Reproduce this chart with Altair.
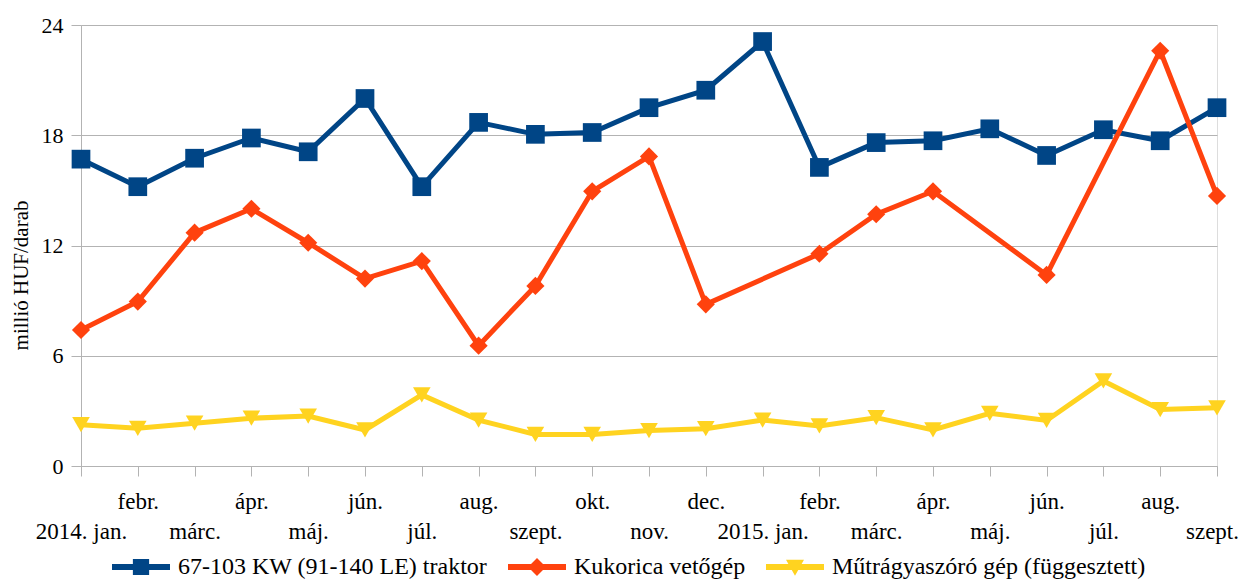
import json
import altair as alt
import pandas as pd

months = ["2014. jan.", "febr.", "márc.", "ápr.", "máj.", "jún.", "júl.", "aug.", "szept.",
          "okt.", "nov.", "dec.", "2015. jan.", "febr.", "márc.", "ápr.", "máj.", "jún.",
          "júl.", "aug.", "szept."]
series_names = ["67-103 KW (91-140 LE) traktor", "Kukorica vetőgép",
                "Műtrágyaszóró gép (függesztett)"]
traktor = [16.7, 15.2, 16.75, 17.85, 17.1, 20.0, 15.2, 18.7, 18.05, 18.15, 19.5, 20.45,
           23.1, 16.25, 17.6, 17.7, 18.35, 16.9, 18.3, 17.7, 19.5]
vetogep = [7.4, 8.95, 12.7, 14.0, 12.15, 10.2, 11.15, 6.55, 9.8, 14.95, 16.85, 8.8,
           None, 11.55, 13.7, 14.95, None, 10.4, None, 22.6, 14.7]
mutragya = [2.25, 2.05, 2.33, 2.6, 2.72, 1.96, 3.87, 2.5, 1.72, 1.72, 1.93, 2.03,
            2.5, 2.18, 2.63, 1.96, 2.87, 2.48, 4.63, 3.07, 3.17]
y_ticks = [0, 6, 12, 18, 24]
colors = ["#004586", "#ff420e", "#ffd320"]
shapes = ["square", "diamond", "triangle-down"]
sizes = [350, 330, 310]
legend_paths = [
    "M-1,-0.1H1V0.1H-1Z M-0.28,-0.28H0.28V0.28H-0.28Z",
    "M-1,-0.1H1V0.1H-1Z M0,-0.31L0.31,0L0,0.31L-0.31,0Z",
    "M-1,-0.1H1V0.1H-1Z M-0.31,-0.25L0.31,-0.25L0,0.3Z",
]

rows = []
for s, vals in zip(series_names, [traktor, vetogep, mutragya]):
    for i, v in enumerate(vals):
        if v is not None:
            rows.append({"idx": i, "month": months[i], "series": s, "value": v})
df = pd.DataFrame(rows)

FONT = "Liberation Serif"
GRID = "#b3b3b3"
last = len(months) - 1

L = json.dumps(months, ensure_ascii=False)
label_expr = f"datum.value % 2 == 0 ? ['', {L}[datum.value]] : [{L}[datum.value]]"

x_enc = alt.X(
    "idx:Q",
    scale=alt.Scale(domain=[0, last], nice=False, zero=False),
    axis=alt.Axis(values=list(range(len(months))), labelExpr=label_expr, grid=False,
                  domainColor=GRID, tickColor=GRID, tickSize=10, labelPadding=14,
                  labelFont=FONT, labelFontSize=23, labelColor="black",
                  labelLineHeight=30, labelOverlap=False, labelFlush=False,
                  labelOffset={"condition": {"test": f"datum.value == {last}", "value": -5},
                               "value": 0}),
    title=None,
)
y_enc = alt.Y(
    "value:Q",
    scale=alt.Scale(domain=[0, 24], nice=False),
    axis=alt.Axis(values=y_ticks, grid=True, gridColor=GRID, domainColor=GRID,
                  tickColor=GRID, tickSize=10, labelPadding=8, labelFont=FONT,
                  labelFontSize=22, labelColor="black", titleFont=FONT,
                  titleFontSize=21, titleFontWeight="normal", titleColor="black",
                  titleX=-50, titleY=250, titleAlign="center", titleBaseline="bottom"),
    title="millió HUF/darab",
)

layers = []
for s, c, sh, sz in zip(series_names, colors, shapes, sizes):
    base = alt.Chart(df).transform_filter(alt.datum.series == s)
    layers.append(base.mark_line(color=c, strokeWidth=5).encode(x=x_enc, y=y_enc))
    layers.append(base.mark_point(shape=sh, filled=True, size=sz, color=c, opacity=1,
                                  strokeWidth=0).encode(x=x_enc, y=y_enc))

leg = alt.Legend(title=None, orient="none", legendX=31, legendY=513,
                 direction="horizontal", symbolSize=3364, symbolStrokeWidth=0,
                 symbolOpacity=1, labelFont=FONT, labelFontSize=24, labelColor="black",
                 labelOffset=8, columnPadding=20, labelLimit=600)
legend_layer = alt.Chart(df).transform_filter("false").mark_point(
    filled=True, opacity=1, size=3364, strokeWidth=0
).encode(
    x=x_enc, y=y_enc,
    color=alt.Color("series:N", scale=alt.Scale(domain=series_names, range=colors), legend=leg),
    shape=alt.Shape("series:N", scale=alt.Scale(domain=series_names, range=legend_paths), legend=leg),
)
layers.append(legend_layer)

chart = alt.layer(*layers).properties(
    width=1136, height=441,
    autosize=alt.AutoSizeParams(type="none"),
    padding={"left": 73, "top": 17, "right": 25, "bottom": 116},
).configure_view(stroke=GRID, strokeWidth=1).configure(background="white")

chart.save("out.html", embed_options={"renderer": "svg", "actions": False})
